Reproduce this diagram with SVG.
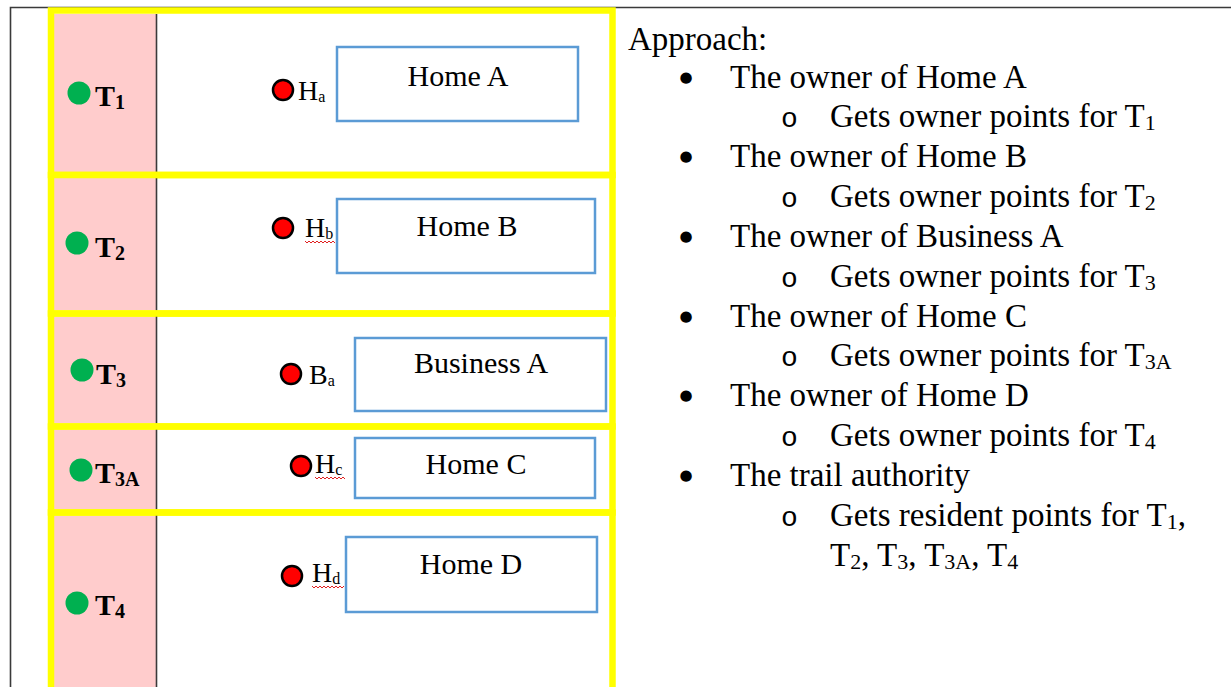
<svg xmlns="http://www.w3.org/2000/svg" width="1231" height="687" viewBox="0 0 1231 687">
<style>
.frame{stroke:#3a3a3a;stroke-width:1.6;fill:none}
.yel{fill:none;stroke:#FFFF00;stroke-width:6.5}
.pink{fill:#FFCCCC}
.div{stroke:#3a3a3a;stroke-width:1.6}
.box{fill:#fff;stroke:#5B9BD5;stroke-width:2.5}
.gdot{fill:#00B050}
.rdot{fill:#FF0000;stroke:#000;stroke-width:2.5}
.tl{font-family:"Liberation Serif","Times New Roman",serif;font-weight:bold;font-size:30px;fill:#000}
.hl{font-family:"Liberation Serif","Times New Roman",serif;font-size:28px;fill:#000}
.bl{font-family:"Liberation Serif","Times New Roman",serif;font-size:30px;fill:#000;text-anchor:middle}
.rt{font-family:"Liberation Serif","Times New Roman",serif;font-size:33px;fill:#000}
.bu{font-family:"DejaVu Sans",sans-serif;font-size:15px;fill:#000;text-anchor:middle}
.ci{font-family:"Liberation Mono","Courier New",monospace;font-size:28px;fill:#000}
.wave{fill:none;stroke:#E02020;stroke-width:1}
</style>
<rect width="1231" height="687" fill="#fff"/>
<g id="frame">
<path class="frame" d="M10.5,687 V7.5 H1231"/>
</g>
<g id="row-T1">
<rect class="pink" x="54" y="14" width="102" height="158"/>
<line class="div" x1="156.5" y1="14" x2="156.5" y2="175"/>
<rect class="yel" x="51" y="10.5" width="561.5" height="164.5"/>
<circle class="gdot" cx="79" cy="93" r="11.5"/>
<text class="tl" x="95" y="106">T<tspan font-size="20" dy="3">1</tspan></text>
<circle class="rdot" cx="283" cy="90" r="10"/>
<text class="hl" x="298" y="100">H<tspan font-size="16" dy="2">a</tspan></text>
<rect class="box" x="337" y="47" width="241" height="74"/>
<text class="bl" x="458" y="86">Home A</text>
</g>
<g id="row-T2">
<rect class="pink" x="54" y="178" width="102" height="132"/>
<line class="div" x1="156.5" y1="175" x2="156.5" y2="313.5"/>
<rect class="yel" x="51" y="175" width="561.5" height="138.5"/>
<circle class="gdot" cx="77" cy="243" r="11.5"/>
<text class="tl" x="95" y="257">T<tspan font-size="20" dy="3">2</tspan></text>
<circle class="rdot" cx="283" cy="228" r="10"/>
<text class="hl" x="305" y="237">H<tspan font-size="16" dy="2">b</tspan></text>
<path class="wave" d="M305,241 l2,2 l2,-2 l2,2 l2,-2 l2,2 l2,-2 l2,2 l2,-2 l2,2 l2,-2 l2,2 l2,-2 l2,2 l2,-2 l2,2"/>
<rect class="box" x="337" y="199" width="258" height="74"/>
<text class="bl" x="467" y="236">Home B</text>
</g>
<g id="row-T3">
<rect class="pink" x="54" y="317" width="102" height="106"/>
<line class="div" x1="156.5" y1="313.5" x2="156.5" y2="426.5"/>
<rect class="yel" x="51" y="313.5" width="561.5" height="113"/>
<circle class="gdot" cx="82" cy="370" r="11.5"/>
<text class="tl" x="96" y="384">T<tspan font-size="20" dy="3">3</tspan></text>
<circle class="rdot" cx="291" cy="374" r="10"/>
<text class="hl" x="309" y="384">B<tspan font-size="16" dy="2">a</tspan></text>
<rect class="box" x="355" y="338" width="251" height="73"/>
<text class="bl" x="481" y="373">Business A</text>
</g>
<g id="row-T3A">
<rect class="pink" x="54" y="430" width="102" height="79"/>
<line class="div" x1="156.5" y1="426.5" x2="156.5" y2="512.5"/>
<rect class="yel" x="51" y="426.5" width="561.5" height="86"/>
<circle class="gdot" cx="81" cy="470" r="11.5"/>
<text class="tl" x="95" y="483">T<tspan font-size="20" dy="3">3A</tspan></text>
<circle class="rdot" cx="301" cy="466" r="10"/>
<text class="hl" x="315" y="473">H<tspan font-size="16" dy="2">c</tspan></text>
<path class="wave" d="M315,477 l2,2 l2,-2 l2,2 l2,-2 l2,2 l2,-2 l2,2 l2,-2 l2,2 l2,-2 l2,2 l2,-2 l2,2 l2,-2 l2,2"/>
<rect class="box" x="355" y="438" width="240" height="60"/>
<text class="bl" x="476" y="474">Home C</text>
</g>
<g id="row-T4">
<rect class="pink" x="54" y="516" width="102" height="171"/>
<line class="div" x1="156.5" y1="512.5" x2="156.5" y2="687"/>
<rect class="yel" x="51" y="512.5" width="561.5" height="200"/>
<circle class="gdot" cx="77" cy="603" r="11.5"/>
<text class="tl" x="95" y="615">T<tspan font-size="20" dy="3">4</tspan></text>
<circle class="rdot" cx="292" cy="576" r="10"/>
<text class="hl" x="312" y="582">H<tspan font-size="16" dy="2">d</tspan></text>
<path class="wave" d="M312,586 l2,2 l2,-2 l2,2 l2,-2 l2,2 l2,-2 l2,2 l2,-2 l2,2 l2,-2 l2,2 l2,-2 l2,2 l2,-2 l2,2 l2,-2"/>
<rect class="box" x="346" y="537" width="251" height="75"/>
<text class="bl" x="471" y="574">Home D</text>
</g>
<g id="connectors"></g>
<g id="approach">
<text class="rt" x="628" y="50">Approach:</text>
<text class="bu" x="686" y="82">●</text>
<text class="rt" x="730" y="88">The owner of Home A</text>
<text class="ci" x="781" y="127">o</text>
<text class="rt" x="830" y="127">Gets owner points for T<tspan font-size="22" dy="3">1</tspan></text>
<text class="bu" x="686" y="161">●</text>
<text class="rt" x="730" y="167">The owner of Home B</text>
<text class="ci" x="781" y="207">o</text>
<text class="rt" x="830" y="207">Gets owner points for T<tspan font-size="22" dy="3">2</tspan></text>
<text class="bu" x="686" y="241">●</text>
<text class="rt" x="730" y="247">The owner of Business A</text>
<text class="ci" x="781" y="287">o</text>
<text class="rt" x="830" y="287">Gets owner points for T<tspan font-size="22" dy="3">3</tspan></text>
<text class="bu" x="686" y="321">●</text>
<text class="rt" x="730" y="327">The owner of Home C</text>
<text class="ci" x="781" y="366">o</text>
<text class="rt" x="830" y="366">Gets owner points for T<tspan font-size="22" dy="3">3A</tspan></text>
<text class="bu" x="686" y="400">●</text>
<text class="rt" x="730" y="406">The owner of Home D</text>
<text class="ci" x="781" y="446">o</text>
<text class="rt" x="830" y="446">Gets owner points for T<tspan font-size="22" dy="3">4</tspan></text>
<text class="bu" x="686" y="480">●</text>
<text class="rt" x="730" y="486">The trail authority</text>
<text class="ci" x="781" y="526">o</text>
<text class="rt" x="830" y="526">Gets resident points for T<tspan font-size="22" dy="3">1</tspan><tspan dy="-3">,</tspan></text>
<text class="rt" x="830" y="566">T<tspan font-size="22" dy="3">2</tspan><tspan dy="-3">, T</tspan><tspan font-size="22" dy="3">3</tspan><tspan dy="-3">, T</tspan><tspan font-size="22" dy="3">3A</tspan><tspan dy="-3">, T</tspan><tspan font-size="22" dy="3">4</tspan></text>
</g>
</svg>
